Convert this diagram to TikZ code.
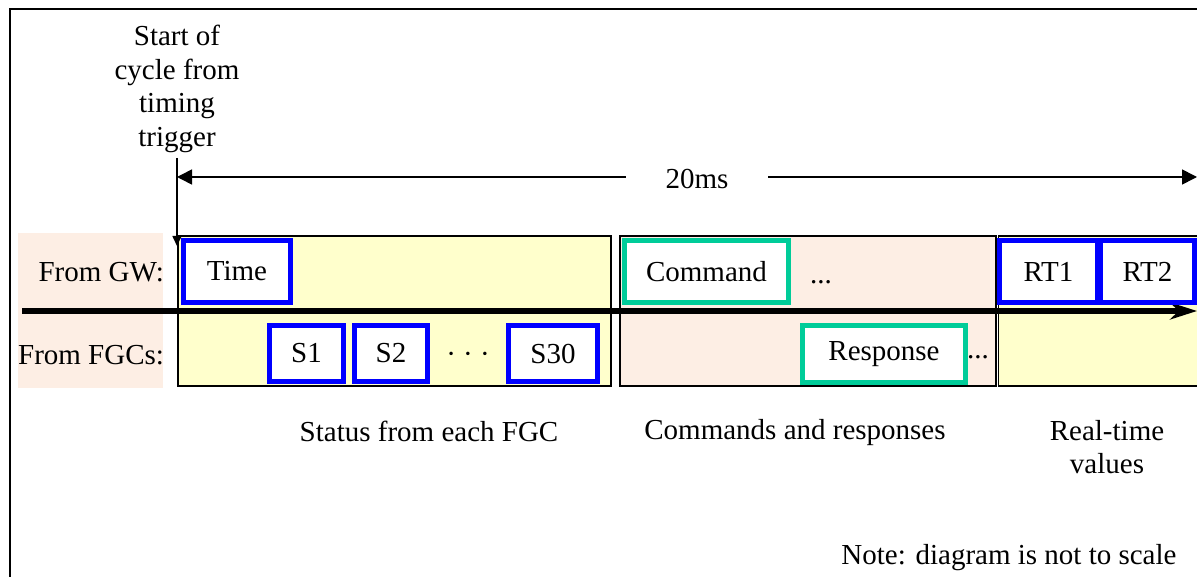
\documentclass[tikz,border=0pt]{standalone}
\usepackage{fontspec}
\setmainfont{Liberation Serif}
\usetikzlibrary{arrows.meta}
\definecolor{pale}{HTML}{FFFFCC}
\definecolor{peach}{HTML}{FDEEE4}
\definecolor{bbl}{HTML}{0000FF}
\definecolor{tl}{HTML}{00CC99}
\begin{document}
\begin{tikzpicture}[x=1pt,y=-1pt,
  every node/.style={font=\fontsize{29}{33.5}\selectfont, inner sep=0pt, outer sep=0pt},
  sect/.style={draw=black, line width=1.6pt, anchor=north west, minimum height=150pt},
  bbox/.style={draw=bbl, line width=5pt, fill=white},
  tbox/.style={draw=tl, line width=5pt, fill=white},
  thin/.style={line width=1.6pt},
]
\useasboundingbox (0,0) rectangle (1197,577);
\fill[white] (0,0) rectangle (1197,577);
% frame
\draw[thin] (10,580) -- (10,9) -- (1210,9);
% label background
\node[fill=peach, minimum width=145pt, minimum height=155pt, anchor=north west] (lblbg) at (18,233) {};
% sections
\node[sect, fill=pale, minimum width=433pt] (sec1) at (178,236) {};
\node[sect, fill=peach, minimum width=376pt] (sec2) at (620,236) {};
\node[sect, fill=pale, minimum width=215pt] (sec3) at (998.5,236) {};
% timeline arrow
\coordinate (tlL) at (22,311);
\coordinate (tlR) at (1197,311);
\draw[line width=5.5pt, -{Stealth[length=27pt,width=17pt]}] (tlL) -- (tlR);
% row labels
\node[anchor=east] (gw) at (164,272) {From GW:};
\node[anchor=east] (fgc) at (164,355) {From FGCs:};
% start label and trigger arrow
\node[align=center] (start) at (177,89) {Start of\\cycle from\\timing\\trigger};
\coordinate (tTop) at (177,158);
\coordinate (tBot) at (177,246);
\draw[thin, -{Triangle[length=10pt,width=9pt]}] (tTop) -- (tBot);
% 20ms dimension
\node[inner xsep=40pt] (ms) at (697,179) {20ms};
\coordinate (dL) at (177,177);
\coordinate (dR) at (1197,177);
\draw[thin, -{Triangle[length=15pt,width=15pt]}] (ms.west |- dL) -- (dL);
\draw[thin, -{Triangle[length=15pt,width=15pt]}] (ms.east |- dR) -- (dR);
% GW row boxes
\node[bbox, minimum width=107pt, minimum height=62pt] (time) at (237,271.5) {Time};
\node[tbox, minimum width=164pt, minimum height=62pt] (cmd) at (706.5,271.5) {Command};
\node (cdots) at (821,282) {...};
\node[bbox, minimum width=98pt, minimum height=62pt] (rt1) at (1048.5,271.5) {RT1};
\node[bbox, minimum width=94pt, minimum height=62pt] (rt2) at (1147.5,271.5) {RT2};
% FGC row boxes
\node[bbox, minimum width=74pt, minimum height=56pt] (s1) at (306.5,353.5) {S1};
\node[bbox, minimum width=73pt, minimum height=56pt] (s2) at (391,353.5) {S2};
\node (sdots) at (468,358) {· · ·};
\node[bbox, minimum width=89pt, minimum height=56pt] (s30) at (553,353.5) {S30};
\node[tbox, minimum width=163pt, minimum height=57pt] (resp) at (884,354) {Response};
\node (rdots) at (978,357) {...};
% captions
\node (cap1) at (429,431) {Status from each FGC};
\node (cap2) at (795,433) {Commands and responses};
\node[align=center] (cap3) at (1107,447) {Real-time\\values};
\node (note) at (1009,558) {Note: diagram is not to scale};
\end{tikzpicture}
\end{document}
